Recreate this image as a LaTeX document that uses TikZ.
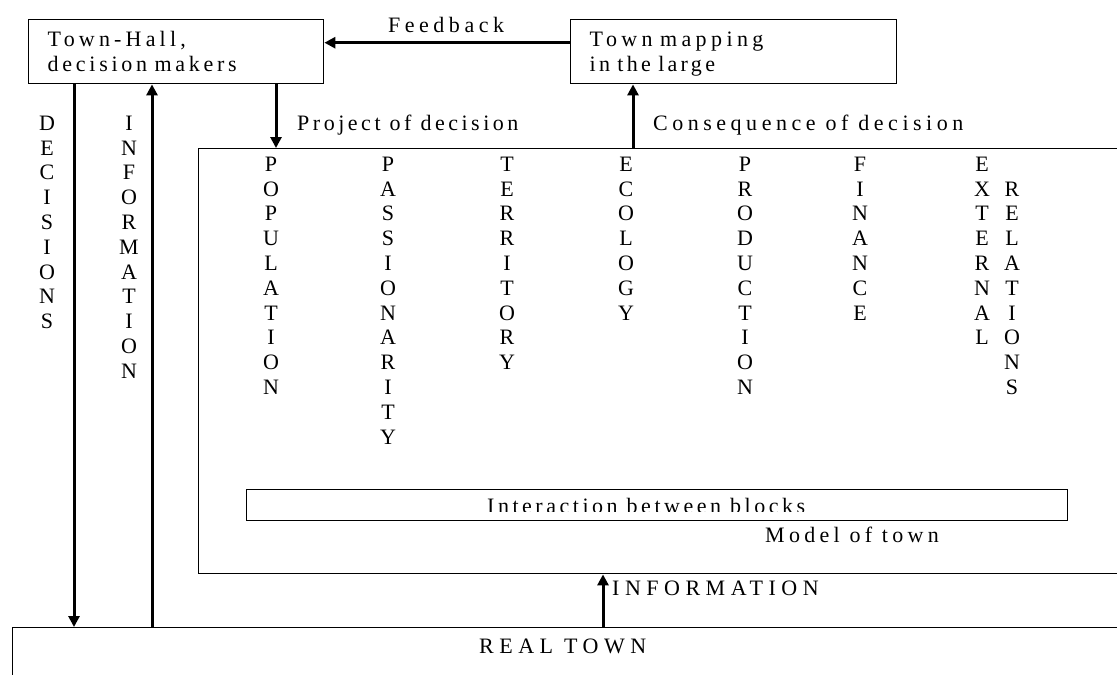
\documentclass[tikz,border=0pt]{standalone}
\usepackage{fontspec}
\setmainfont{Liberation Serif}
\usetikzlibrary{arrows.meta}
\newcommand{\lsp}[1]{\addfontfeature{LetterSpace=#1}}
\begin{document}
\begin{tikzpicture}[x=1pt,y=-1pt,
  box/.style={draw=black, line width=1.4pt, inner sep=0pt, anchor=north west},
  arr/.style={line width=3pt, -{Triangle[length=11pt,width=11pt]}},
  txt/.style={font=\fontsize{22}{25}\selectfont, inner sep=0pt, anchor=base west},
  vl/.style={font=\fontsize{22}{24.8}\selectfont, align=center, inner sep=0pt, anchor=north},
]
\clip (0,0) rectangle (1117,675);
\fill[white] (0,0) rectangle (1117,675);

% boxes
\node[box, minimum width=295pt, minimum height=64pt, text width=257pt, align=left,
      inner xsep=19pt, font=\fontsize{22}{25}\selectfont] (hall) at (28,19)
      {\mbox{\lsp{19}Town-Hall,}\\\mbox{\lsp{17}decision makers}};
\node[box, minimum width=326pt, minimum height=64pt, text width=288pt, align=left,
      inner xsep=19pt, font=\fontsize{22}{25}\selectfont] (map) at (570,19)
      {\rule{0pt}{19.5pt}\mbox{\lsp{20}Town mapping}\\\mbox{\lsp{15}in the large}};
\node[box, minimum width=1000pt, minimum height=425pt] (model) at (198,148) {};
\node[box, minimum width=821pt, minimum height=31pt] (inter) at (246,489) {};
\node[box, minimum width=1200pt, minimum height=120pt] (real) at (12,627) {};

% labels
\node[txt, font=\fontsize{22}{25}\selectfont\lsp{20.5}] (fb) at (388,32) {Feedback};
\node[txt, font=\fontsize{22}{25}\selectfont\lsp{16}] (proj) at (297,130) {Project of decision};
\node[txt, font=\fontsize{22}{25}\selectfont\lsp{20.5}] (cons) at (653,130) {Consequence of decision};
\node[txt, font=\fontsize{22}{25}\selectfont\lsp{19.5}] (mot) at (765,542) {Model of town};
\node[txt, font=\fontsize{22}{25}\selectfont\lsp{25}] (infl) at (612,595) {INFORMATION};
\node[txt, font=\fontsize{22}{25}\selectfont\lsp{25}] (rt) at (479,653) {REAL TOWN};
\begin{scope}
\clip (246,489) rectangle (1067,511);
\node[txt, font=\fontsize{22}{25}\selectfont\lsp{16}] (itext) at (487,513.6) {Interaction between blocks};
\end{scope}

% vertical labels
\node[vl] (dec) at (47,115.7) {D\\E\\C\\I\\S\\I\\O\\N\\S};
\node[vl] (inf) at (129,115.7) {I\\N\\F\\O\\R\\M\\A\\T\\I\\O\\N};
\node[vl] (pop) at (271,156.7) {P\\O\\P\\U\\L\\A\\T\\I\\O\\N};
\node[vl] (pas) at (388,156.7) {P\\A\\S\\S\\I\\O\\N\\A\\R\\I\\T\\Y};
\node[vl] (ter) at (507,156.7) {T\\E\\R\\R\\I\\T\\O\\R\\Y};
\node[vl] (eco) at (626,156.7) {E\\C\\O\\L\\O\\G\\Y};
\node[vl] (pro) at (745,156.7) {P\\R\\O\\D\\U\\C\\T\\I\\O\\N};
\node[vl] (fin) at (860,156.7) {F\\I\\N\\A\\N\\C\\E};
\node[vl] (ext) at (982,156.7) {E\\X\\T\\E\\R\\N\\A\\L};
\node[vl] (rel) at (1012,181.5) {R\\E\\L\\A\\T\\I\\O\\N\\S};

% connectors
\draw[arr] ([yshift=9pt]map.west) -- ([yshift=9pt]hall.east);
\draw[arr] (74,0 |- hall.south) -- (74,0 |- real.north);
\draw[arr] (152,0 |- real.north) -- (152,0 |- hall.south);
\draw[arr] (276,0 |- hall.south) -- (276,0 |- model.north);
\draw[arr] (633,0 |- model.north) -- (633,0 |- map.south);
\draw[arr] (603,0 |- real.north) -- (603,0 |- model.south);
\end{tikzpicture}
\end{document}
